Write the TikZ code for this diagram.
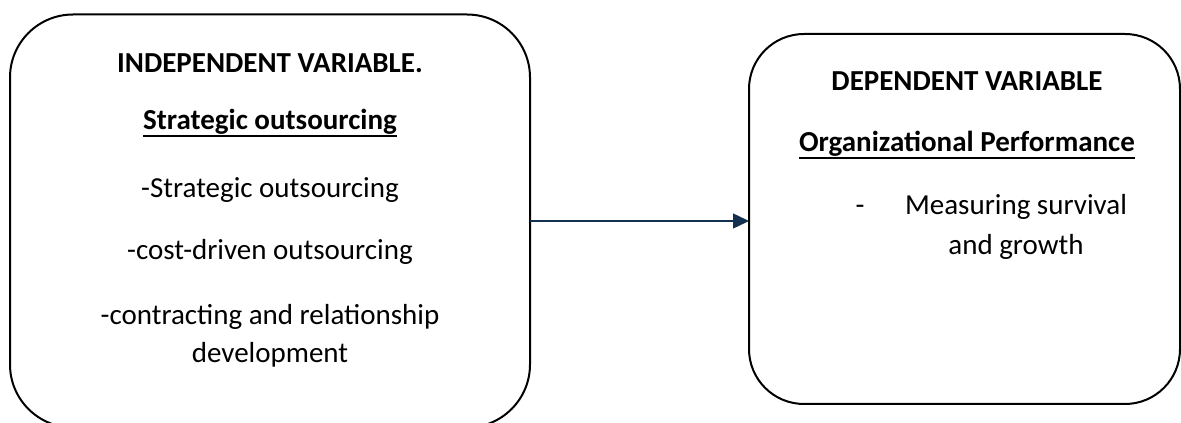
\documentclass[tikz,border=0pt]{standalone}
\usepackage{fontspec}
\setmainfont{Carlito}
\usetikzlibrary{arrows.meta}
\definecolor{arrowblue}{HTML}{13304F}
\tikzset{>={Triangle[length=16pt,width=15pt]}}
\tikzset{
  varbox/.style={draw, line width=2pt, inner sep=0pt, outer sep=0pt},
  txt/.style={anchor=base, inner sep=0pt, font=\fontsize{29}{38}\selectfont},
  head/.style={txt, font=\fontsize{29}{38}\selectfont\bfseries},
}
\newcommand{\undl}[1]{\setbox0\hbox{#1}\rlap{\rule[-7pt]{\wd0}{2pt}}\box0}

\begin{document}
\begin{tikzpicture}[x=1pt,y=1pt]
  \useasboundingbox (0,0) rectangle (1181,423);
  % the two variable boxes
  \node[varbox, rounded corners=63pt, minimum width=520pt, minimum height=413pt] (indep) at (270,202) {};
  \node[varbox, rounded corners=55pt, minimum width=431pt, minimum height=370pt] (dep) at (964.5,204) {};
  % independent side
  \node[head] (ivtitle) at (270,350) {INDEPENDENT VARIABLE.};
  \node[head] (ivname) at (270,293) {\undl{Strategic outsourcing}};
  \node[txt] (iva) at (270,225) {-Strategic outsourcing};
  \node[txt] (ivb) at (270,163) {-cost-driven outsourcing};
  \node[txt] (ivc) at (270,98) {-contracting and relationship};
  \node[txt] (ivd) at (270,60) {development};
  % dependent side
  \node[head] (dvtitle) at (967,332) {DEPENDENT VARIABLE};
  \node[head] (dvname) at (967,271) {\undl{Organizational Performance}};
  \node[txt] (dvdash) at (860,208) {-};
  \node[txt] (dva) at (1016,208) {Measuring survival};
  \node[txt] (dvb) at (1016,168) {and growth};
  % link
  \draw[->, arrowblue, line width=1.4pt] (indep.east) -- (indep.east -| dep.west);
\end{tikzpicture}
\end{document}
